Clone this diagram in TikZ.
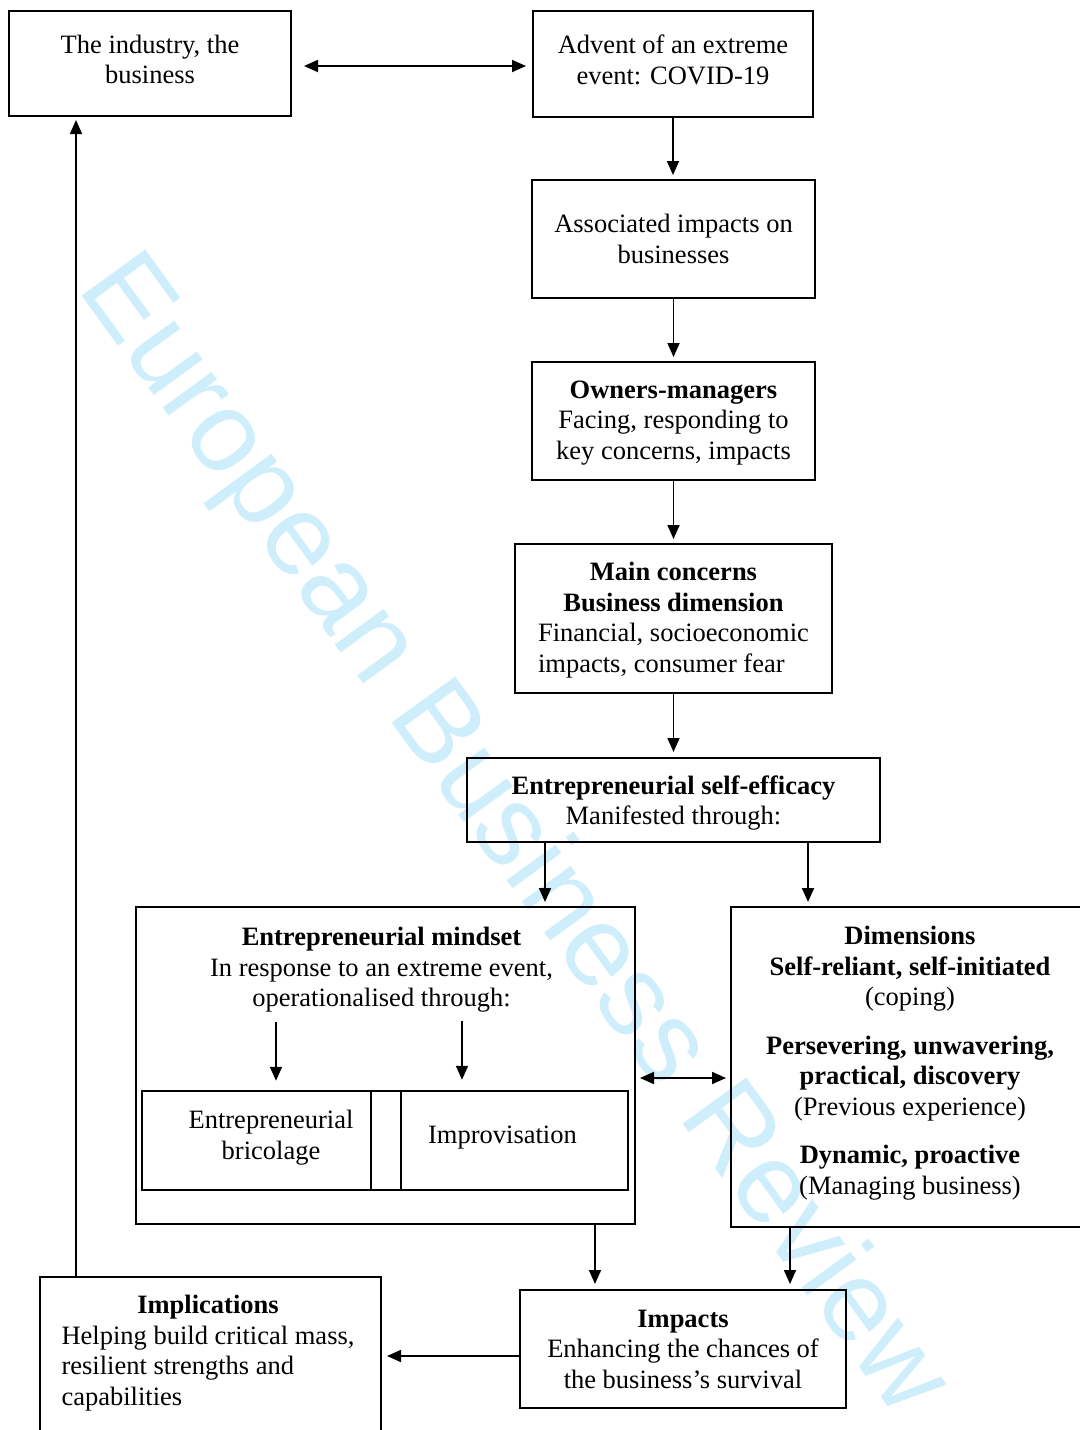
\documentclass[tikz,border=0pt]{standalone}
\usepackage{fontspec}
\setmainfont{Liberation Serif}
\newfontfamily\wmfont{Liberation Sans}
\usetikzlibrary{arrows.meta}
\definecolor{wmblue}{RGB}{207,238,252}
\begin{document}
\begin{tikzpicture}[x=0.5pt,y=-0.5pt,
  every node/.style={font=\fontsize{13.25}{15.25}\selectfont, inner sep=0pt},
  box/.style={draw, line width=1pt, align=center},
  sz/.style 2 args={minimum width=#1*0.5pt, minimum height=#2*0.5pt},
  arr/.style={line width=0.9pt, -{Triangle[length=7pt,width=6pt]}},
  darr/.style={line width=0.9pt, {Triangle[length=7pt,width=6pt]}-{Triangle[length=7pt,width=6pt]}},
  txt/.style={align=center}]
\useasboundingbox (0,0) rectangle (1080,1430);
% watermark
\node[anchor=base west, rotate=-54, text=wmblue, font=\wmfont\fontsize{57.2}{58}\selectfont] (wm) at (76,288) {European Business Review};
% boxes
\node[box, sz={282}{105}] (ind) at (150,63.5) {};
\node[txt] (indt) at (150,59.5) {The industry, the\\business};
\node[box, sz={280}{106}] (adv) at (673,64) {};
\node[txt] (advt) at (673,60) {Advent of an extreme\\event: COVID-19};
\node[box, sz={283}{118}] (asc) at (673.5,239) {Associated impacts on\\businesses};
\node[box, sz={283}{118}] (own) at (673.5,421) {};
\node[txt] (ownt) at (673.5,423) {\textbf{Owners-managers}\\Facing, responding to\\key concerns, impacts};
\node[box, sz={317}{149}] (mc) at (673.5,618.5) {};
\node (mct) at (673.5,620.5) {\begin{tabular}{@{}l@{}}\multicolumn{1}{@{}c@{}}{\textbf{Main concerns}}\\ \multicolumn{1}{@{}c@{}}{\textbf{Business dimension}}\\ Financial, socioeconomic\\ impacts, consumer fear\end{tabular}};
\node[box, sz={413}{84}] (ese) at (673.5,800) {};
\node[txt] (eset) at (673.5,803) {\textbf{Entrepreneurial self-efficacy}\\Manifested through:};
\node[box, sz={499}{317}] (mind) at (385.5,1065.5) {};
\node[txt] (mindt) at (381.5,970) {\textbf{Entrepreneurial mindset}\\In response to an extreme event,\\operationalised through:};
\node[box, line width=1.25pt, sz={229}{99}] (bri) at (256.5,1140.5) {};
\node[box, line width=1.25pt, sz={30}{99}] (gap) at (386,1140.5) {};
\node[box, line width=1.25pt, sz={227}{99}] (imp) at (514.5,1140.5) {};
\node[txt] (brit) at (271,1137.5) {Entrepreneurial\\bricolage};
\node[txt] (impt) at (502.5,1137.5) {Improvisation};
\node[box, sz={358}{320}] (dim) at (910,1067) {};
\node[txt] (dimt) at (910,1063) {\textbf{Dimensions}\\\textbf{Self-reliant, self-initiated}\\(coping)\\[9pt]\textbf{Persevering, unwavering,}\\\textbf{practical, discovery}\\(Previous experience)\\[9pt]\textbf{Dynamic, proactive}\\(Managing business)};
\node[box, sz={341}{163}] (impl) at (210.5,1358.5) {};
\node (implt) at (208,1353.5) {\begin{tabular}{@{}l@{}}\multicolumn{1}{@{}c@{}}{\textbf{Implications}}\\ Helping build critical mass,\\ resilient strengths and\\ capabilities\end{tabular}};
\node[box, sz={326}{118}] (imc) at (683,1349) {\textbf{Impacts}\\Enhancing the chances of\\the business’s survival};
% connectors
\coordinate (y1) at (0,66);
\draw[darr, shorten <=6pt, shorten >=3pt] (ind.east |- y1) -- (adv.west |- y1);
\draw[arr, shorten >=2pt] (adv.south) -- (adv.south |- asc.north);
\draw[arr, shorten >=2pt] (asc.south) -- (asc.south |- own.north);
\draw[arr, shorten >=2pt] (own.south) -- (own.south |- mc.north);
\draw[arr, shorten >=2.5pt] (mc.south) -- (mc.south |- ese.north);
\coordinate (x545) at (545,0);
\coordinate (x808) at (808,0);
\draw[arr, shorten >=2pt] (ese.south -| x545) -- (mind.north -| x545);
\draw[arr, shorten >=2pt] (ese.south -| x808) -- (dim.north -| x808);
\coordinate (a1) at (276,1022);
\coordinate (a2) at (462,1021);
\draw[arr, shorten >=4.5pt] (a1) -- (bri.north -| a1);
\draw[arr, shorten >=5pt] (a2) -- (imp.north -| a2);
\coordinate (y2) at (0,1078);
\draw[darr, shorten <=2pt, shorten >=2pt] (mind.east |- y2) -- (dim.west |- y2);
\coordinate (x595) at (595,0);
\coordinate (x790) at (790,0);
\draw[arr, shorten >=2.5pt] (mind.south -| x595) -- (imc.north -| x595);
\draw[arr, shorten >=2.5pt] (dim.south -| x790) -- (imc.north -| x790);
\coordinate (y3) at (0,1356);
\draw[arr, shorten >=2.5pt] (imc.west |- y3) -- (impl.east |- y3);
\coordinate (x76) at (76,0);
\draw[arr, shorten >=1.5pt] (impl.north -| x76) -- (ind.south -| x76);
\end{tikzpicture}
\end{document}
